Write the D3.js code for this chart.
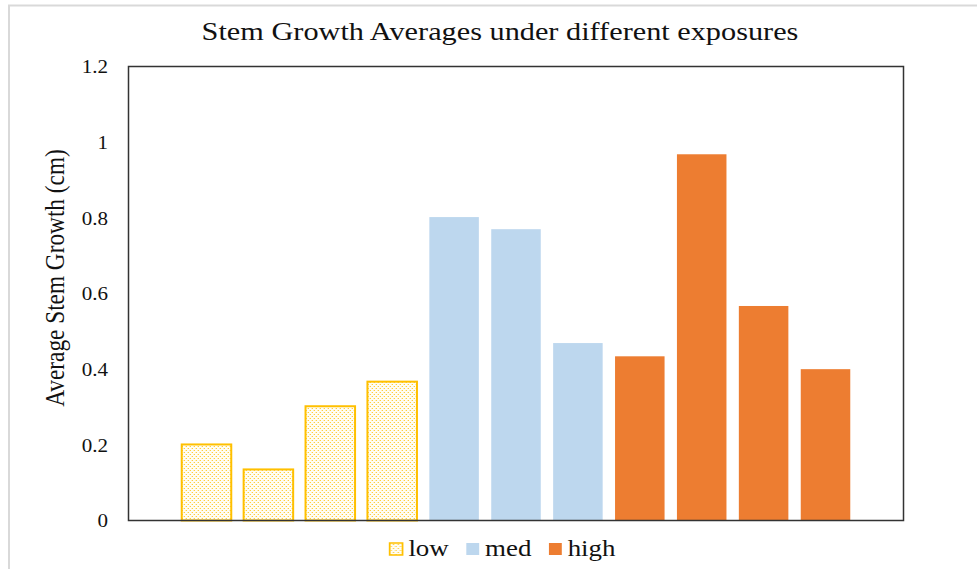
<!DOCTYPE html>
<html>
<head>
<meta charset="utf-8">
<script src="https://cdn.jsdelivr.net/npm/d3@7/dist/d3.min.js"></script>
<style>
  html, body { margin: 0; padding: 0; background: #ffffff; }
  svg { display: block; }
  text { font-family: "Liberation Serif", "Times New Roman", serif; fill: #111; }
</style>
</head>
<body>
<svg id="chart" width="977" height="569"></svg>
<script>
// Average stem growth per plant, grouped by exposure level
const categories = ["L1", "L2", "L3", "L4", "M1", "M2", "M3", "H1", "H2", "H3", "H4"];
const groups = ["low", "low", "low", "low", "med", "med", "med", "high", "high", "high", "high"];
const values = [0.201, 0.135, 0.302, 0.367, 0.802, 0.770, 0.469, 0.434, 0.968, 0.567, 0.400];
const yTicks = [0, 0.2, 0.4, 0.6, 0.8, 1, 1.2];
const legendItems = ["low", "med", "high"];

const svg = d3.select("#chart");
const W = 977, H = 569;
const plot = { left: 128.5, right: 903.5, top: 66.5, bottom: 520.5 };
const SX = 1.17; // wide lettering used throughout the chart

// Outer chart-area border
svg.append("path")
  .attr("d", `M9,${H} L9,5.5 L${W},5.5`)
  .attr("fill", "none").attr("stroke", "#d9d9d9").attr("stroke-width", 2);

// Dotted fill used for the "low" bars
const defs = svg.append("defs");
const pat = defs.append("pattern")
  .attr("id", "dots").attr("patternUnits", "userSpaceOnUse")
  .attr("width", 4).attr("height", 4);
pat.append("rect").attr("width", 4).attr("height", 4).attr("fill", "#fffdf5");
pat.append("rect").attr("x", 0).attr("y", 0).attr("width", 1).attr("height", 1).attr("fill", "#ffc000").attr("opacity", 0.75);
pat.append("rect").attr("x", 2).attr("y", 2).attr("width", 1).attr("height", 1).attr("fill", "#ffc000").attr("opacity", 0.75);
pat.append("rect").attr("x", 1).attr("y", 2).attr("width", 1).attr("height", 1).attr("fill", "#ffd966").attr("opacity", 0.45);
pat.append("rect").attr("x", 3).attr("y", 0).attr("width", 1).attr("height", 1).attr("fill", "#ffd966").attr("opacity", 0.45);

const fills = { low: "url(#dots)", med: "#bdd7ee", high: "#ed7d31" };

const x = d3.scaleBand()
  .domain(categories)
  .range([plot.left, plot.right])
  .paddingInner(0.2)
  .paddingOuter(0.86);

const y = d3.scaleLinear().domain([0, 1.2]).range([plot.bottom, plot.top]);

// Bars
svg.append("g").selectAll("rect")
  .data(values)
  .join("rect")
  .attr("x", (d, i) => x(categories[i]))
  .attr("y", d => y(d))
  .attr("width", x.bandwidth())
  .attr("height", d => y(0) - y(d))
  .attr("fill", (d, i) => fills[groups[i]])
  .attr("stroke", (d, i) => groups[i] === "low" ? "#ffc000" : "none")
  .attr("stroke-width", 2);

// Plot frame
svg.append("rect")
  .attr("x", plot.left).attr("y", plot.top)
  .attr("width", plot.right - plot.left).attr("height", plot.bottom - plot.top)
  .attr("fill", "none").attr("stroke", "#333").attr("stroke-width", 1.5);

// Y axis labels (axis placed at the label edge, then stretched horizontally)
const yAxis = d3.axisLeft(y).tickValues(yTicks).tickSize(0).tickPadding(0)
  .tickFormat(d => d3.format("~g")(d));
const gy = svg.append("g").attr("transform", `translate(108,0) scale(${SX},1)`).call(yAxis);
gy.select(".domain").remove();
gy.selectAll("text")
  .style("font-family", "'Liberation Serif', 'Times New Roman', serif")
  .style("font-size", "18px").attr("fill", "#111").attr("dy", "0.35em");

// Y axis title
svg.append("text")
  .attr("transform", `translate(64,278) scale(${SX},1) rotate(-90)`)
  .attr("text-anchor", "middle")
  .style("font-size", "23.3px")
  .text("Average Stem Growth (cm)");

// Title
svg.append("text")
  .attr("transform", `translate(500,40) scale(1.165,1)`)
  .attr("text-anchor", "middle")
  .style("font-size", "26px")
  .text("Stem Growth Averages under different exposures");

// Legend
const legend = svg.append("g");
let lx = 0;
const items = legend.selectAll("g").data(legendItems).join("g");
items.each(function (name) {
  const g = d3.select(this);
  g.append("rect")
    .attr("x", 1).attr("y", -13).attr("width", 11).attr("height", 12)
    .attr("fill", fills[name])
    .attr("stroke", name === "low" ? "#ffc000" : "none").attr("stroke-width", 1.5);
  const t = g.append("text").attr("x", 17).attr("y", 0)
    .style("font-size", "23px").text(name);
  const w = 17 + t.node().getComputedTextLength();
  g.attr("transform", `translate(${lx},0)`);
  lx += w + 14;
});
const legendWidth = (lx - 14) * SX;
legend.attr("transform", `translate(${502 - legendWidth / 2},556) scale(${SX},1)`);
</script>
</body>
</html>
